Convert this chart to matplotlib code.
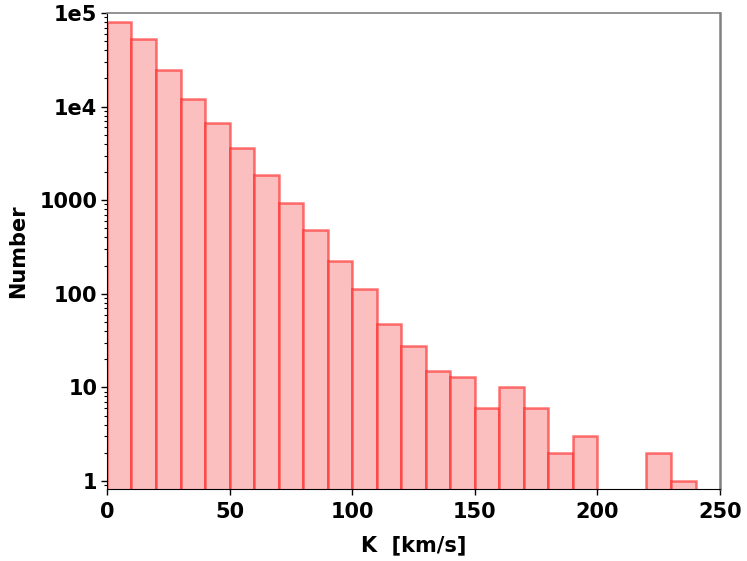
import numpy as np
import matplotlib.pyplot as plt
from matplotlib.ticker import FixedLocator, LogLocator, NullFormatter

plt.rcParams['font.family'] = ['DejaVu Sans']
plt.rcParams['font.weight'] = 'bold'

# histogram data: 10 km/s bins
bin_edges = np.arange(0, 250, 10)
counts = [81000, 52700, 24600, 12000, 6680, 3610, 1860, 933, 480, 224,
          112, 47, 27.6, 15, 13, 6, 10, 6, 2, 3, 0, 0, 2, 1]
ytick_vals = [1, 10, 100, 1000, 1e4, 1e5]
ytick_labels = ['1', '10', '100', '1000', '1e4', '1e5']
xtick_vals = [0, 50, 100, 150, 200, 250]

fig = plt.figure(figsize=(7.47, 5.61), dpi=100)
ax = fig.add_axes([0.1432, 0.1283, 0.8207, 0.8485])

left = bin_edges[:-1]
cnt = np.array(counts, dtype=float)
keep = cnt > 0
ax.bar(left[keep], cnt[keep], width=10, align='edge',
       facecolor='#fbbfbf', edgecolor=(1, 0.1, 0.1, 0.6), linewidth=1.8)

ax.set_yscale('log')
ax.set_ylim(0.82, 1e5)
ax.set_xlim(0, 250)

ax.yaxis.set_major_locator(FixedLocator(ytick_vals))
ax.set_yticklabels(ytick_labels)
ax.yaxis.set_minor_locator(LogLocator(base=10, subs=np.arange(2, 10)))
ax.yaxis.set_minor_formatter(NullFormatter())
ax.set_xticks(xtick_vals)
ax.set_xticklabels([str(v) for v in xtick_vals])

ax.tick_params(axis='both', which='major', labelsize=15, direction='out',
               length=4, width=1, top=False, right=False, pad=5)
ax.tick_params(axis='y', which='major', pad=3)
ax.tick_params(axis='y', which='minor', direction='out', length=2.5, width=0.8,
               right=False)

for s in ['top', 'right']:
    ax.spines[s].set_color('#808080')
ax.spines['right'].set_linewidth(1.8)
ax.spines['top'].set_linewidth(1.2)

ax.set_xlabel('K  [km/s]', fontsize=15, fontweight='bold', labelpad=10)
ax.set_ylabel('Number', fontsize=15, fontweight='bold', labelpad=8)

fig.savefig('out.png', dpi=100)
